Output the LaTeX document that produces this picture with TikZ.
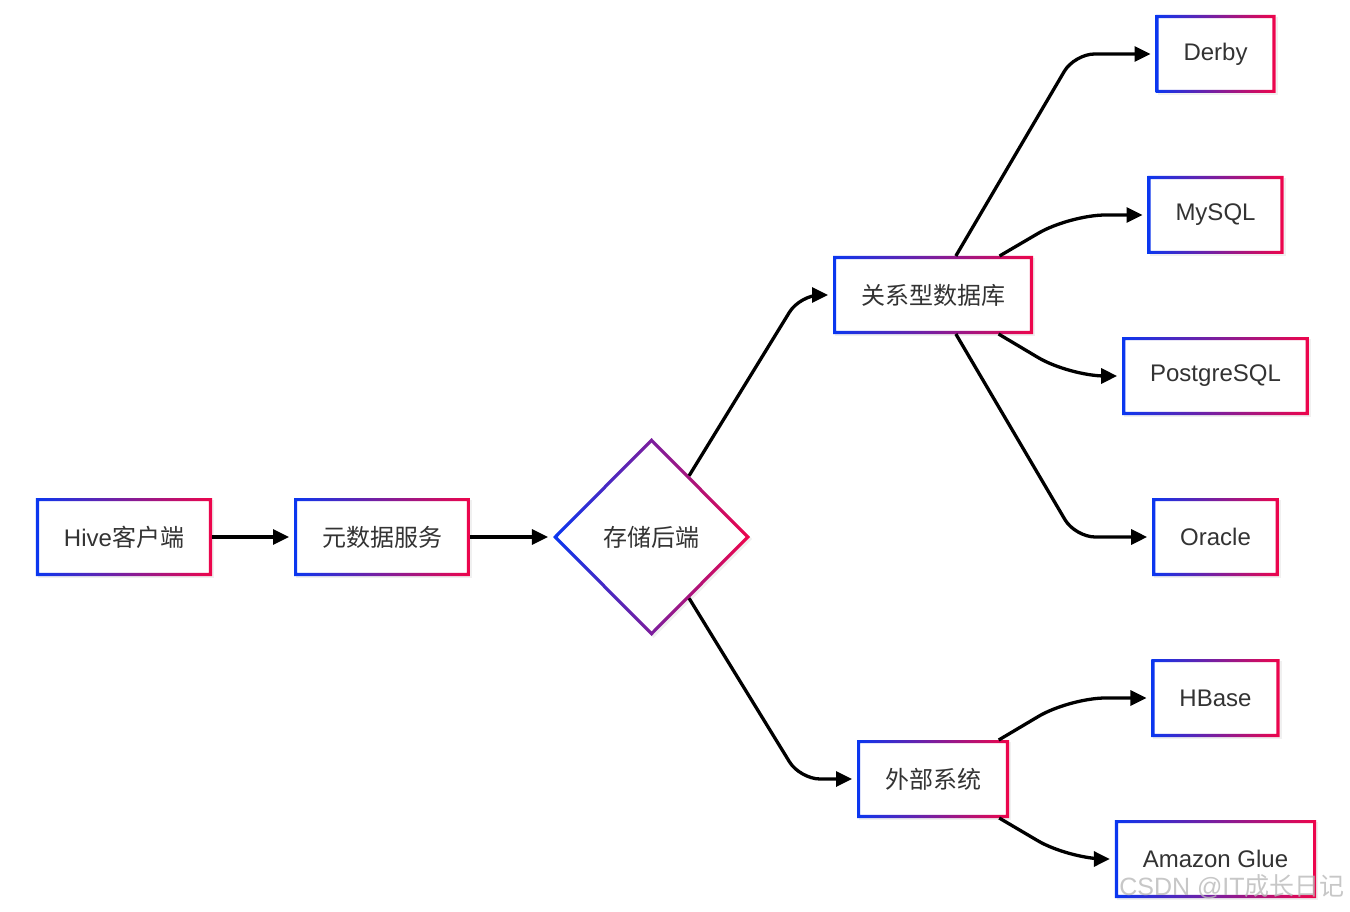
\documentclass[tikz,border=0pt]{standalone}
\usepackage{fontspec}
\usepackage{xcolor}
\usetikzlibrary{arrows.meta,shapes.geometric,shadows}
\setmainfont{Liberation Sans}
\newfontfamily\cjk{Noto Sans CJK SC}
\definecolor{gblue}{RGB}{10,55,240}
\definecolor{gred}{RGB}{238,5,75}
\definecolor{txt}{RGB}{51,51,51}

\begin{document}
\begin{tikzpicture}[x=1pt,y=-1pt,
        box/.style={rectangle, fill=white, text=txt, inner xsep=28pt, inner ysep=0pt,
            minimum height=78pt, outer sep=0pt, font=\fontsize{24}{28}\selectfont,
            drop shadow={shadow xshift=2pt, shadow yshift=-2pt, opacity=.12}},
        choice/.style={diamond, fill=white, text=txt, inner sep=0pt, outer sep=0pt,
            minimum width=197pt, minimum height=198pt, font=\fontsize{24}{28}\selectfont\cjk,
            drop shadow={shadow xshift=2pt, shadow yshift=-2pt, opacity=.12}},
        arr/.style={line width=3.3pt, -{Triangle[length=16pt,width=15pt]}, shorten >=5pt}]
        \useasboundingbox (0,0) rectangle (1350,912);
        % nodes
        \node[box] (hive) at (124,537) {Hive{\cjk 客户端}};
        \node[box] (meta) at (382,537) {\cjk 元数据服务};
        \node[choice] (store) at (651.5,537) {存储后端};
        \node[box] (rel) at (933,295) {\cjk 关系型数据库};
        \node[box] (ext) at (933,779) {\cjk 外部系统};
        \node[box] (derby) at (1215.5,54) {Derby};
        \node[box] (mysql) at (1215.5,215) {MySQL};
        \node[box] (pg) at (1215.5,376) {PostgreSQL};
        \node[box] (oracle) at (1215.5,537) {Oracle};
        \node[box] (hbase) at (1215.5,698) {HBase};
        \node[box] (glue) at (1215.5,859) {Amazon Glue};
        % gradient borders
        \foreach \n in {hive,meta,rel,ext,derby,mysql,pg,oracle,hbase,glue}
            \shade[left color=gblue, right color=gred, even odd rule]
                (\n.south west) rectangle (\n.north east)
                ([shift={(3.2pt,3.2pt)}]\n.south west) rectangle ([shift={(-3.2pt,-3.2pt)}]\n.north east);
        \shade[left color=gblue, right color=gred, even odd rule]
            (store.north) -- (store.east) -- (store.south) -- (store.west) -- cycle
            ([yshift=-4.5pt]store.north) -- ([xshift=-4.5pt]store.east)
            -- ([yshift=4.5pt]store.south) -- ([xshift=4.5pt]store.west) -- cycle;
        % edges
        \draw[arr] (hive) -- (meta);
        \draw[arr] (meta) -- (store);
        \draw[arr, rounded corners=20pt] (store) -- ([xshift=-33pt]rel.west) -- (rel);
        \draw[arr, rounded corners=20pt] (store) -- ([xshift=-57pt]ext.west) -- (ext);
        \draw[arr, rounded corners=20pt] (rel) -- ([xshift=-81pt]derby.west) -- (derby);
        \draw[arr, rounded corners=36pt] (rel) -- ([xshift=-78pt]mysql.west) -- (mysql);
        \draw[arr, rounded corners=36pt] (rel) -- ([xshift=-53pt]pg.west) -- (pg);
        \draw[arr, rounded corners=20pt] (rel) -- ([xshift=-77pt]oracle.west) -- (oracle);
        \draw[arr, rounded corners=36pt] (ext) -- ([xshift=-82pt]hbase.west) -- (hbase);
        \draw[arr, rounded corners=36pt] (ext) -- ([xshift=-46pt]glue.west) -- (glue);
        % watermark
        \node[text=gray!55, opacity=.8, font=\fontsize{25}{28}\selectfont] (mark) at (1232,887)
            {CSDN @IT{\cjk 成长日记}};
\end{tikzpicture}
\end{document}
